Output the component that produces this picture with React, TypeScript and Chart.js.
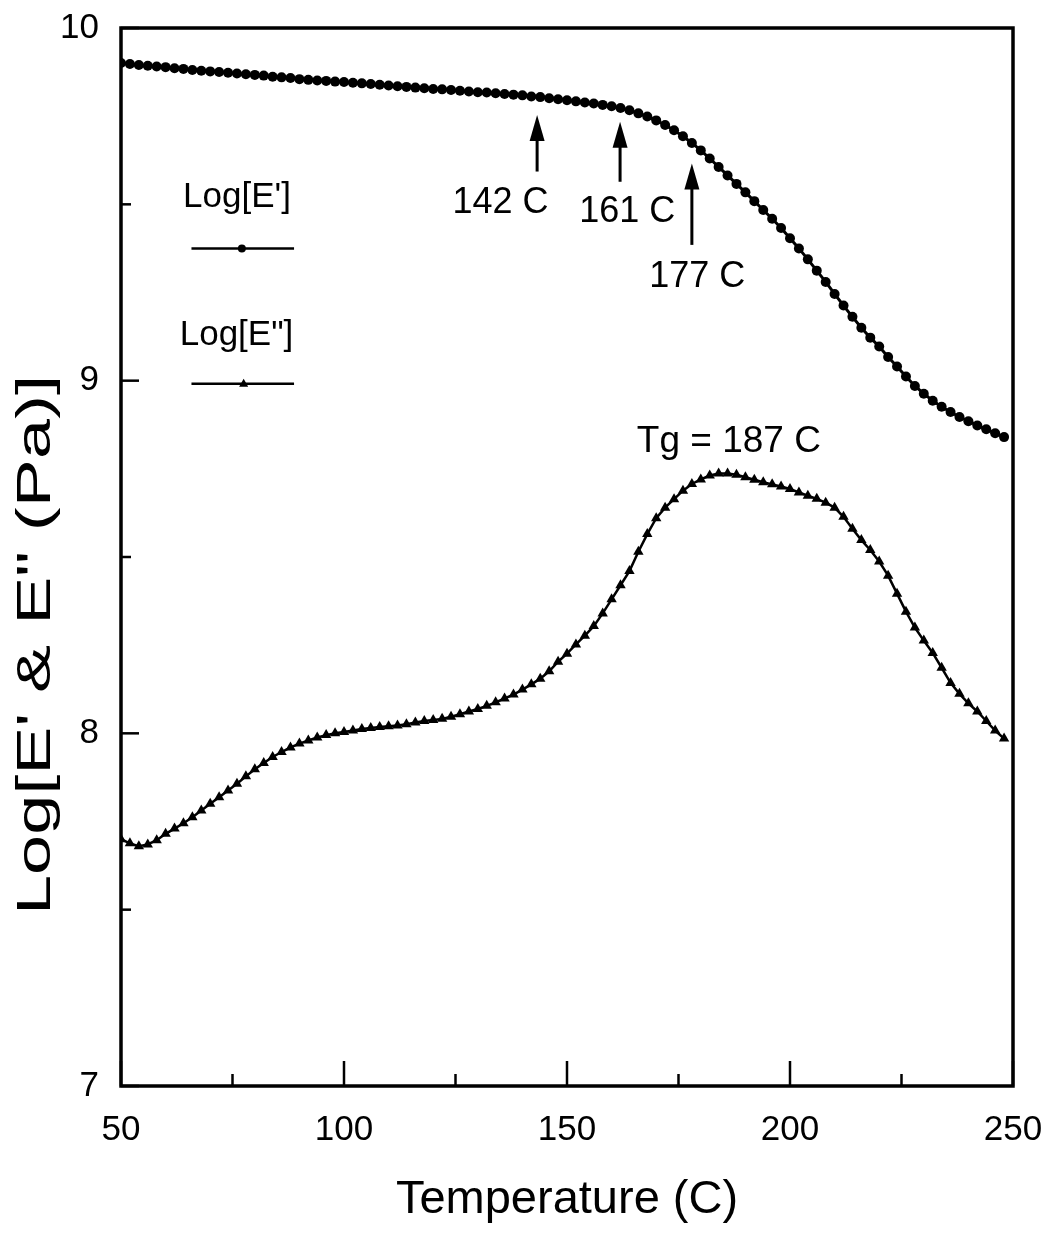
import React, { useEffect, useRef } from "react";
import { Chart, registerables } from "chart.js";

Chart.register(...registerables);

const temps: number[] = [
  50, 52, 54, 56, 58, 60, 62, 64, 66, 68, 70, 72, 74, 76, 78, 80, 82, 84, 86, 88,
  90, 92, 94, 96, 98, 100, 102, 104, 106, 108, 110, 112, 114, 116, 118, 120, 122, 124, 126, 128,
  130, 132, 134, 136, 138, 140, 142, 144, 146, 148, 150, 152, 154, 156, 158, 160, 162, 164, 166, 168,
  170, 172, 174, 176, 178, 180, 182, 184, 186, 188, 190, 192, 194, 196, 198, 200, 202, 204, 206, 208,
  210, 212, 214, 216, 218, 220, 222, 224, 226, 228, 230, 232, 234, 236, 238, 240, 242, 244, 246, 248,
];

const logEStorage: number[] = [
  9.901, 9.898, 9.895, 9.893, 9.891, 9.889, 9.886, 9.884, 9.881, 9.879,
  9.877, 9.875, 9.873, 9.871, 9.869, 9.867, 9.865, 9.862, 9.86, 9.858,
  9.855, 9.853, 9.851, 9.85, 9.848, 9.847, 9.845, 9.843, 9.841, 9.839,
  9.837, 9.835, 9.833, 9.831, 9.829, 9.827, 9.826, 9.824, 9.822, 9.82,
  9.818, 9.817, 9.815, 9.813, 9.811, 9.809, 9.806, 9.804, 9.801, 9.798,
  9.795, 9.792, 9.789, 9.786, 9.782, 9.778, 9.773, 9.767, 9.758, 9.749,
  9.738, 9.725, 9.71, 9.693, 9.674, 9.653, 9.63, 9.606, 9.582, 9.558,
  9.534, 9.509, 9.484, 9.459, 9.433, 9.404, 9.375, 9.344, 9.312, 9.28,
  9.246, 9.213, 9.181, 9.15, 9.122, 9.097, 9.067, 9.04, 9.012, 8.985,
  8.963, 8.943, 8.926, 8.911, 8.897, 8.885, 8.873, 8.862, 8.851, 8.84,
];

const logELoss: number[] = [
  7.7, 7.688, 7.68, 7.685, 7.697, 7.715, 7.73, 7.745, 7.762, 7.781,
  7.8, 7.819, 7.838, 7.857, 7.878, 7.898, 7.916, 7.933, 7.947, 7.96,
  7.971, 7.98, 7.988, 7.995, 8.0, 8.004, 8.008, 8.012, 8.015, 8.018,
  8.02, 8.022, 8.026, 8.031, 8.035, 8.038, 8.041, 8.047, 8.054, 8.062,
  8.069, 8.078, 8.088, 8.099, 8.11, 8.124, 8.139, 8.155, 8.176, 8.203,
  8.226, 8.252, 8.277, 8.304, 8.34, 8.38, 8.42, 8.46, 8.515, 8.565,
  8.61, 8.64, 8.664, 8.688, 8.707, 8.72, 8.731, 8.737, 8.737, 8.733,
  8.726, 8.719, 8.712, 8.706, 8.7, 8.693, 8.683, 8.674, 8.665, 8.654,
  8.64, 8.614, 8.58, 8.548, 8.52, 8.487, 8.447, 8.396, 8.345, 8.3,
  8.263, 8.228, 8.186, 8.143, 8.112, 8.085, 8.062, 8.035, 8.008, 7.985,
];

const xTicks: number[] = [50, 75, 100, 125, 150, 175, 200, 225, 250];
const xTickLabels: string[] = ["50", "", "100", "", "150", "", "200", "", "250"];
const yTicks: number[] = [7, 7.5, 8, 8.5, 9, 9.5, 10];
const yTickLabels: string[] = ["7", "", "8", "", "9", "", "10"];

const seriesNames: string[] = ["Log[E']", 'Log[E"]'];
const xTitle = "Temperature (C)";
const yTitle = 'Log[E\' & E" (Pa)]';

// annotation arrows (data coords)
const arrowLabels: string[] = ["142 C", "161 C", "177 C"];
const arrowT: number[] = [143.3, 161.9, 178.0];
const arrowTip: number[] = [9.753, 9.734, 9.616];
const arrowBase: number[] = [9.593, 9.564, 9.385];
const arrowLabelT: number[] = [135.1, 163.5, 179.2];
const arrowLabelV: number[] = [9.475, 9.451, 9.267];

const tgLabel = "Tg = 187 C";
const tgLabelT = 186.3;
const tgLabelV = 8.799;

// legend (data coords)
const legendTextT: number[] = [76.0, 75.9];
const legendTextV: number[] = [9.493, 9.101];
const legendLineV: number[] = [9.375, 8.991];
const legendLineT0 = 65.8;
const legendLineT1 = 88.8;
const legendMarkT: number[] = [77.1, 77.5];

const FONT = "'Liberation Sans', Arial, Helvetica, sans-serif";

export default function App() {
  const ref = useRef<HTMLCanvasElement | null>(null);

  useEffect(() => {
    const canvas = ref.current;
    if (!canvas) return;

    const framePlugin = {
      id: "framePlugin",
      afterDraw(chart: any) {
        const { ctx, chartArea } = chart;
        const xs = chart.scales.x;
        const ys = chart.scales.y;
        ctx.save();
        ctx.strokeStyle = "#000";
        ctx.fillStyle = "#000";
        // frame
        ctx.lineWidth = 3.5;
        ctx.strokeRect(chartArea.left, chartArea.top, chartArea.right - chartArea.left, chartArea.bottom - chartArea.top);
        // inward ticks
        ctx.lineWidth = 2.5;
        xTicks.forEach((t, i) => {
          const px = xs.getPixelForValue(t);
          const len = xTickLabels[i] ? 25 : 12;
          ctx.beginPath();
          ctx.moveTo(px, chartArea.bottom);
          ctx.lineTo(px, chartArea.bottom - len);
          ctx.stroke();
        });
        yTicks.forEach((v, i) => {
          const py = ys.getPixelForValue(v);
          const len = yTickLabels[i] ? 18 : 10;
          ctx.beginPath();
          ctx.moveTo(chartArea.left, py);
          ctx.lineTo(chartArea.left + len, py);
          ctx.stroke();
        });
        // arrows
        ctx.lineWidth = 3;
        arrowT.forEach((t, i) => {
          const px = xs.getPixelForValue(t);
          const tip = ys.getPixelForValue(arrowTip[i]);
          const base = ys.getPixelForValue(arrowBase[i]);
          ctx.beginPath();
          ctx.moveTo(px, base);
          ctx.lineTo(px, tip + 20);
          ctx.stroke();
          ctx.beginPath();
          ctx.moveTo(px, tip);
          ctx.lineTo(px - 7.5, tip + 26);
          ctx.lineTo(px + 7.5, tip + 26);
          ctx.closePath();
          ctx.fill();
        });
        // texts
        ctx.font = `36px ${FONT}`;
        ctx.textAlign = "center";
        ctx.textBaseline = "alphabetic";
        arrowLabels.forEach((s, i) => {
          ctx.fillText(s, xs.getPixelForValue(arrowLabelT[i]), ys.getPixelForValue(arrowLabelV[i]));
        });
        ctx.font = `37px ${FONT}`;
        ctx.fillText(tgLabel, xs.getPixelForValue(tgLabelT), ys.getPixelForValue(tgLabelV));
        // legend
        ctx.font = `35px ${FONT}`;
        seriesNames.forEach((s, i) => {
          ctx.fillText(s, xs.getPixelForValue(legendTextT[i]), ys.getPixelForValue(legendTextV[i]));
          const ly = ys.getPixelForValue(legendLineV[i]);
          ctx.lineWidth = 2.5;
          ctx.beginPath();
          ctx.moveTo(xs.getPixelForValue(legendLineT0), ly);
          ctx.lineTo(xs.getPixelForValue(legendLineT1), ly);
          ctx.stroke();
          const mx = xs.getPixelForValue(legendMarkT[i]);
          ctx.beginPath();
          if (i === 0) {
            ctx.arc(mx, ly, 4, 0, Math.PI * 2);
          } else {
            ctx.moveTo(mx, ly - 5);
            ctx.lineTo(mx - 4.5, ly + 3);
            ctx.lineTo(mx + 4.5, ly + 3);
            ctx.closePath();
          }
          ctx.fill();
        });
        // y title, horizontally stretched like the scanned original
        ctx.save();
        ctx.translate(37, 645);
        ctx.rotate(-Math.PI / 2);
        ctx.font = `48px ${FONT}`;
        ctx.textAlign = "center";
        ctx.textBaseline = "middle";
        const w = ctx.measureText(yTitle).width;
        const sx = 540 / w;
        ctx.scale(sx, 1);
        ctx.fillText(yTitle, 0, 0);
        ctx.restore();
        ctx.restore();
      },
    };

    const chart = new Chart(canvas, {
      type: "line",
      data: {
        datasets: [
          {
            label: seriesNames[0],
            data: temps.map((t, i) => ({ x: t, y: logEStorage[i] })),
            borderColor: "#000",
            backgroundColor: "#000",
            borderWidth: 3,
            pointStyle: "circle",
            pointRadius: 5,
            pointBorderWidth: 0,
            tension: 0,
          },
          {
            label: seriesNames[1],
            data: temps.map((t, i) => ({ x: t, y: logELoss[i] })),
            borderColor: "#000",
            backgroundColor: "#000",
            borderWidth: 2.5,
            pointStyle: "triangle",
            pointRadius: 6,
            pointBorderWidth: 0,
            tension: 0,
          },
        ],
      },
      options: {
        animation: false,
        responsive: false,
        devicePixelRatio: 1,
        layout: { padding: { top: 28, right: 32, left: 0, bottom: 0 } },
        plugins: { legend: { display: false }, tooltip: { enabled: false } },
        scales: {
          x: {
            type: "linear",
            min: 50,
            max: 250,
            afterBuildTicks: (scale: any) => {
              scale.ticks = xTicks.map((v) => ({ value: v }));
            },
            afterFit: (scale: any) => {
              scale.height = 149;
              scale.paddingLeft = 0;
              scale.paddingRight = 0;
            },
            ticks: {
              autoSkip: false,
              maxRotation: 0,
              padding: 15,
              color: "#000",
              font: { family: FONT, size: 35 },
              callback: (v: any) => {
                const i = xTicks.indexOf(Number(v));
                return i >= 0 ? xTickLabels[i] : "";
              },
            },
            grid: { display: false },
            border: { display: false },
            title: {
              display: true,
              text: xTitle,
              color: "#000",
              font: { family: FONT, size: 47 },
              padding: { top: 0, bottom: 7 },
            },
          },
          y: {
            type: "linear",
            min: 7,
            max: 10,
            afterBuildTicks: (scale: any) => {
              scale.ticks = yTicks.map((v) => ({ value: v }));
            },
            afterFit: (scale: any) => {
              scale.width = 121;
              scale.paddingTop = 0;
              scale.paddingBottom = 0;
            },
            ticks: {
              autoSkip: false,
              padding: 14,
              color: "#000",
              font: { family: FONT, size: 35 },
              callback: (v: any) => {
                const i = yTicks.indexOf(Number(v));
                return i >= 0 ? yTickLabels[i] : "";
              },
            },
            grid: { display: false },
            border: { display: false },
          },
        },
      },
      plugins: [framePlugin],
    } as any);

    return () => chart.destroy();
  }, []);

  return (
    <div style={{ position: "absolute", left: 0, top: 0, width: 1045, height: 1235, background: "#fff" }}>
      <canvas ref={ref} width={1045} height={1235} style={{ display: "block", width: 1045, height: 1235 }} />
    </div>
  );
}
